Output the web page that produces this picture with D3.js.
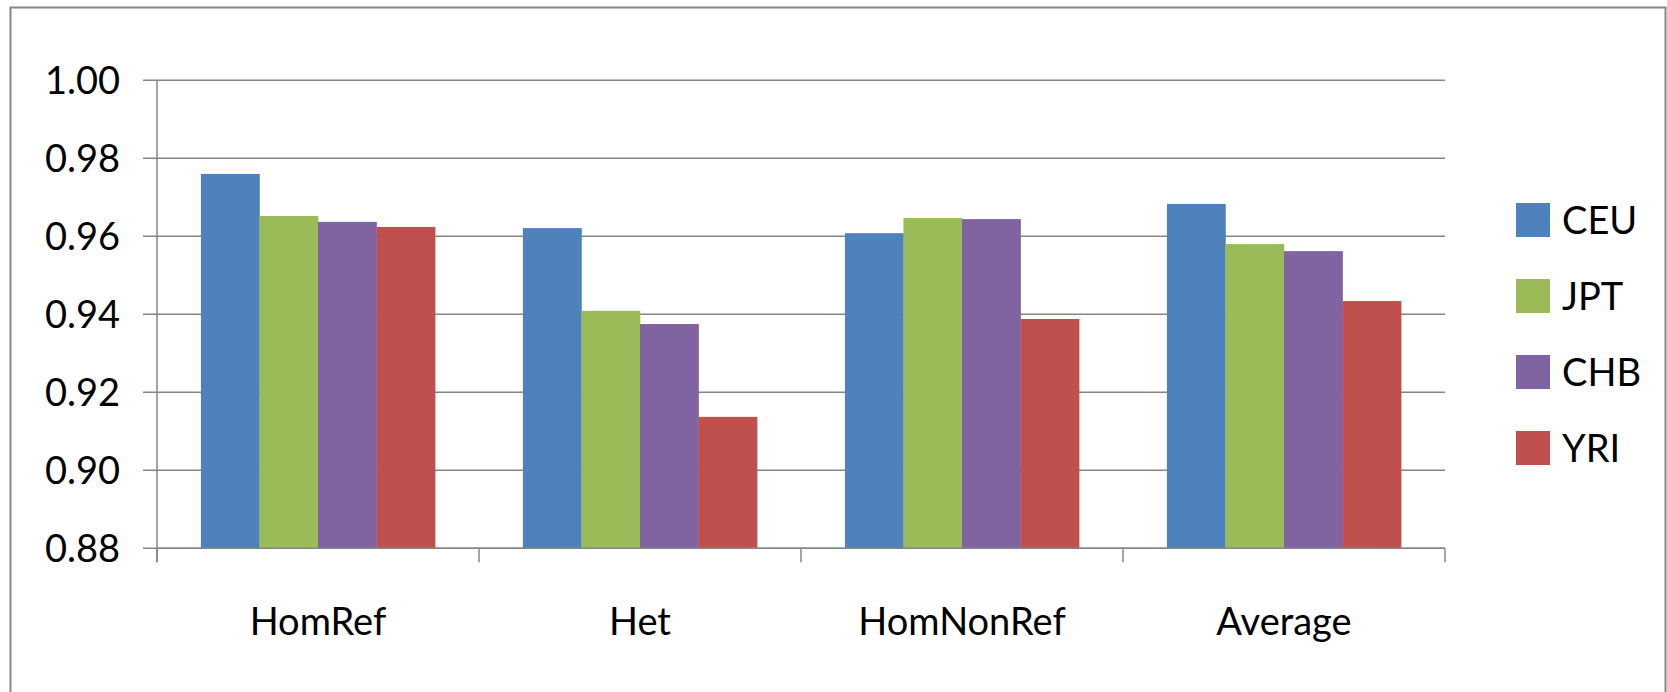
<!DOCTYPE html>
<html>
<head>
<meta charset="utf-8">
<script src="https://cdn.jsdelivr.net/npm/d3@7"></script>
<style>
  html, body { margin: 0; padding: 0; background: #fff; }
  svg { display: block; font-family: Lato, "Open Sans", sans-serif; }
</style>
</head>
<body>
<svg id="chart" width="1667" height="692"></svg>
<script>
// Genotype categories and populations
const categories = ["HomRef", "Het", "HomNonRef", "Average"];
const populations = ["CEU", "JPT", "CHB", "YRI"];
const colors = ["#4F81BD", "#9BBB59", "#8064A2", "#C0504D"];

// Concordance per population, one value per category
const ceu = [0.9760, 0.9621, 0.9608, 0.9683];
const jpt = [0.9652, 0.9409, 0.9647, 0.9580];
const chb = [0.9637, 0.9375, 0.9644, 0.9562];
const yri = [0.9624, 0.9137, 0.9388, 0.9434];
const seriesValues = [ceu, jpt, chb, yri];

const yTicks = [0.88, 0.90, 0.92, 0.94, 0.96, 0.98, 1.00];

const svg = d3.select("#chart");
const W = 1667, H = 692;

// outer frame
svg.append("rect")
  .attr("x", 10.5).attr("y", 7.5)
  .attr("width", 1655).attr("height", 700)
  .attr("fill", "#fff")
  .attr("stroke", "#868686").attr("stroke-width", 2);

const plot = { left: 157, right: 1445, top: 80.3, bottom: 548.3 };

const x0 = d3.scaleBand()
  .domain(categories)
  .range([plot.left, plot.right])
  .paddingInner(0).paddingOuter(0);

// 4 bars + gap equal to 1.5 bar widths
const barW = x0.bandwidth() / 5.5;
const groupOffset = barW * 0.75;

const y = d3.scaleLinear().domain([0.88, 1.00]).range([plot.bottom, plot.top]);

// horizontal gridlines
svg.append("g")
  .selectAll("line")
  .data(yTicks)
  .join("line")
  .attr("x1", plot.left - 14).attr("x2", plot.right)
  .attr("y1", d => y(d)).attr("y2", d => y(d))
  .attr("stroke", "#868686").attr("stroke-width", 1.5);

// bars
const data = [];
categories.forEach((c, ci) => {
  populations.forEach((p, pi) => {
    data.push({ cat: c, pop: p, i: pi, value: seriesValues[pi][ci] });
  });
});

svg.append("g")
  .selectAll("rect")
  .data(data)
  .join("rect")
  .attr("x", d => x0(d.cat) + groupOffset + d.i * barW)
  .attr("width", barW + 0.3)
  .attr("y", d => y(d.value))
  .attr("height", d => y(0.88) - y(d.value))
  .attr("fill", d => colors[d.i]);

// y axis line
svg.append("line")
  .attr("x1", plot.left).attr("x2", plot.left)
  .attr("y1", plot.top).attr("y2", plot.bottom + 14)
  .attr("stroke", "#868686").attr("stroke-width", 1.5);

// x axis line
svg.append("line")
  .attr("x1", plot.left).attr("x2", plot.right)
  .attr("y1", plot.bottom).attr("y2", plot.bottom)
  .attr("stroke", "#868686").attr("stroke-width", 1.5);

// category separator ticks
const tickXs = categories.map(c => x0(c)).concat([plot.right]);
svg.append("g")
  .selectAll("line")
  .data(tickXs)
  .join("line")
  .attr("x1", d => d).attr("x2", d => d)
  .attr("y1", plot.bottom).attr("y2", plot.bottom + 14)
  .attr("stroke", "#868686").attr("stroke-width", 1.5);

// y tick labels
svg.append("g")
  .selectAll("text")
  .data(yTicks)
  .join("text")
  .attr("x", 120)
  .attr("y", d => y(d))
  .attr("dy", "0.36em")
  .attr("text-anchor", "end")
  .attr("font-size", 38)
  .attr("fill", "#000")
  .text(d => d3.format(".2f")(d));

// category labels
svg.append("g")
  .selectAll("text")
  .data(categories)
  .join("text")
  .attr("x", d => x0(d) + x0.bandwidth() / 2)
  .attr("y", 635)
  .attr("text-anchor", "middle")
  .attr("font-size", 38)
  .attr("fill", "#000")
  .text(d => d);

// legend
const legend = svg.append("g")
  .selectAll("g")
  .data(populations)
  .join("g")
  .attr("transform", (d, i) => `translate(1516, ${203 + i * 76})`);

legend.append("rect")
  .attr("width", 34).attr("height", 34)
  .attr("fill", (d, i) => colors[i]);

legend.append("text")
  .attr("x", 46).attr("y", 17)
  .attr("dy", "0.36em")
  .attr("font-size", 38)
  .attr("fill", "#000")
  .text(d => d);
</script>
</body>
</html>
